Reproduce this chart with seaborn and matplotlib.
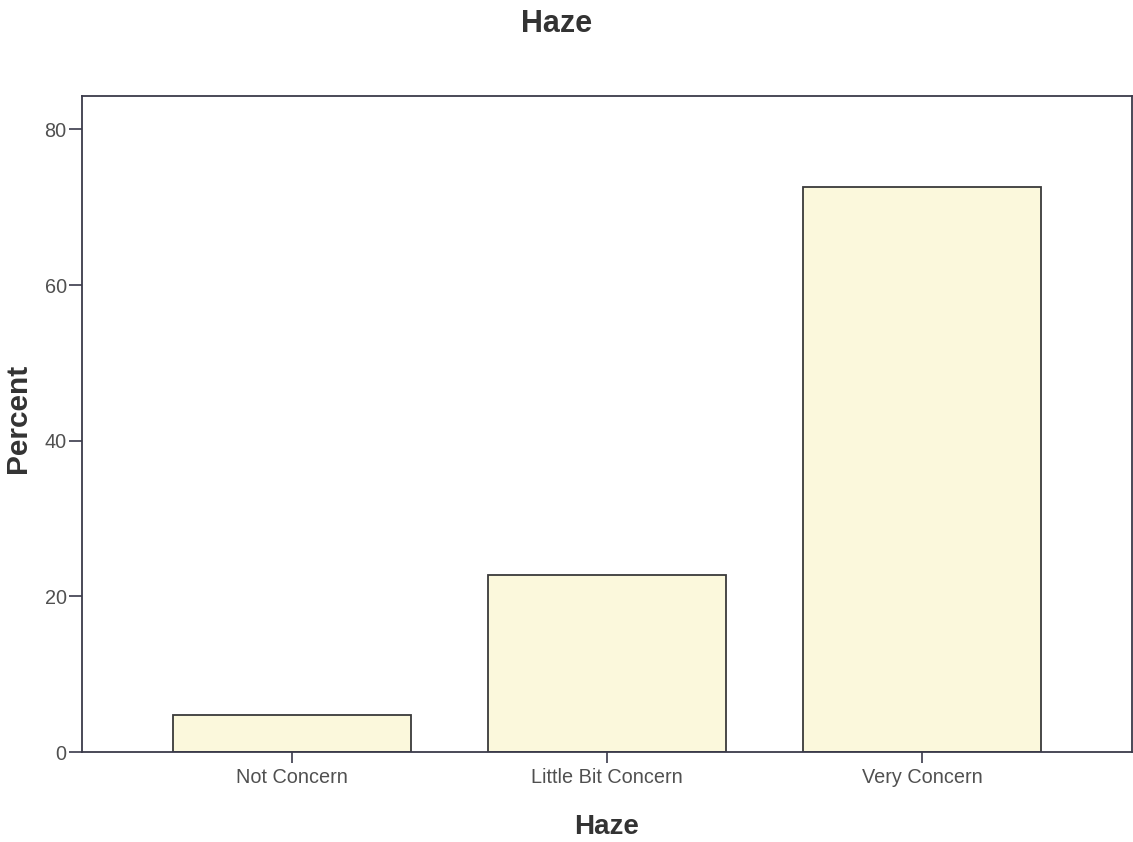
import matplotlib
matplotlib.use("Agg")
import matplotlib.pyplot as plt
import seaborn as sns
import pandas as pd

# Survey responses: level of concern about haze (percent of respondents)
categories = ["Not Concern", "Little Bit Concern", "Very Concern"]
percents = [4.7, 22.7, 72.6]
y_ticks = [0, 20, 40, 60, 80]

df = pd.DataFrame({"Haze": categories, "Percent": percents})

sns.set_theme(style="white")
plt.rcParams["font.family"] = ["Liberation Sans", "DejaVu Sans"]

W, H = 1133, 842
fig = plt.figure(figsize=(W / 100, H / 100), dpi=100)
ax = fig.add_axes([82 / W, 1 - 752 / H, (1132 - 82) / W, (752 - 96) / H])

sns.barplot(data=df, x="Haze", y="Percent", order=categories,
            color="#fbf8dc", edgecolor="#3a3a3a", linewidth=1.3,
            width=0.755, saturation=1, ax=ax)

ax.set_xlim(-0.667, 2.667)
ax.set_ylim(0, 84.3)
ax.set_yticks(y_ticks)
ax.set_yticklabels([str(t) for t in y_ticks])

for side in ax.spines.values():
    side.set_color("#3a3a4a")
    side.set_linewidth(1.3)

ax.tick_params(axis="both", which="major", direction="out", width=1.2,
               color="#3a3a4a", labelcolor="#505050", labelsize=14.3,
               left=True, bottom=True)
ax.tick_params(axis="y", length=9.5, pad=1.5)
ax.tick_params(axis="x", length=8, pad=3.5)

ax.set_xlabel("")
ax.set_ylabel("")

text_color = "#333333"
fig.text(557 / W, 1 - 32 / H, "Haze", ha="center", va="baseline",
         fontsize=22, fontweight="bold", color=text_color)
fig.text(607 / W, 1 - 834 / H, "Haze", ha="center", va="baseline",
         fontsize=20, fontweight="bold", color=text_color)
fig.text(18 / W, 1 - 418 / H, "Percent", ha="center", va="center",
         rotation=90, fontsize=21.5, fontweight="bold", color=text_color)

fig.savefig("out.png", dpi=100, facecolor="white")
